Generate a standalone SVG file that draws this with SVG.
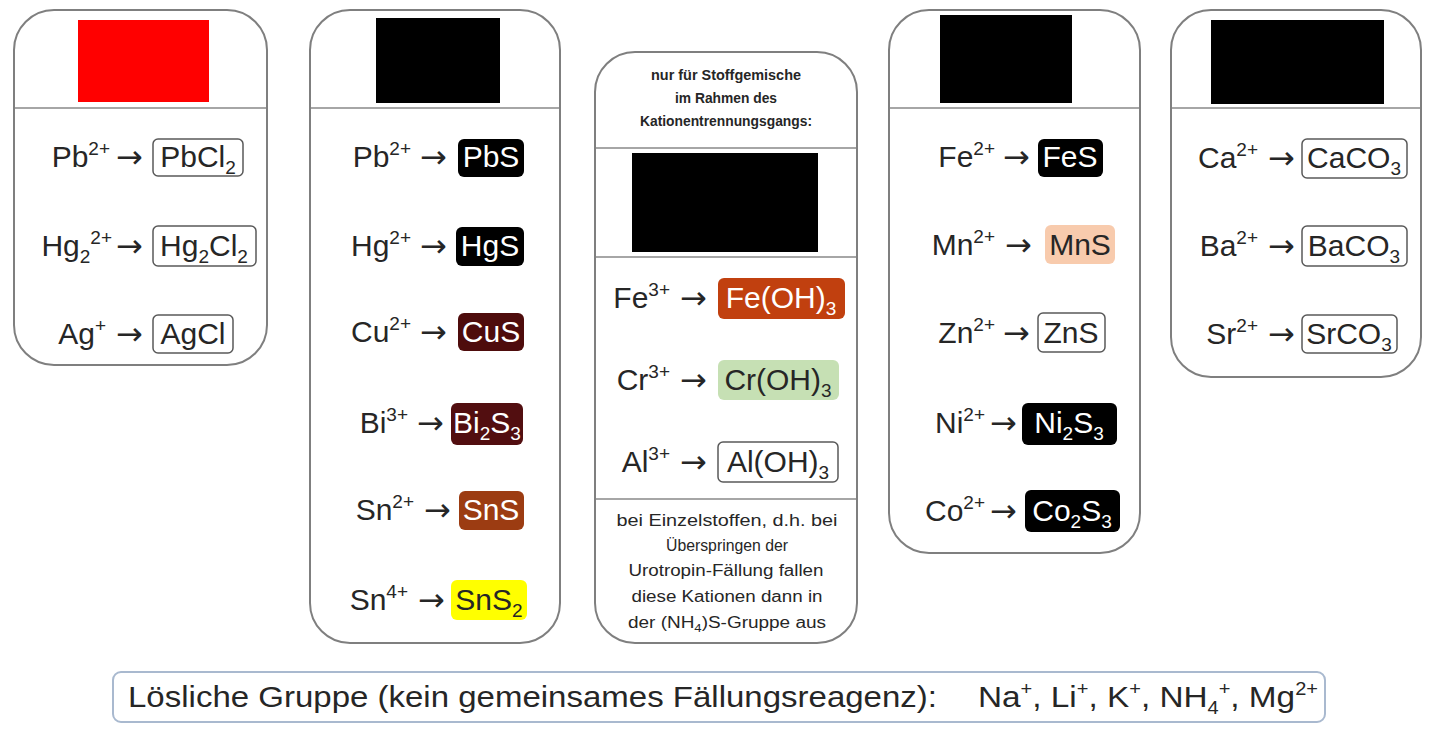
<svg xmlns="http://www.w3.org/2000/svg" width="1440" height="737" viewBox="0 0 1440 737">
<style>
.panel{fill:#fff;stroke:#7f7f7f;stroke-width:2}
.dv{stroke:#a6a6a6;stroke-width:2}
.t{font-family:"Liberation Sans",Arial,sans-serif;font-size:30px;fill:#262626}
.arr{font-family:"DejaVu Sans",sans-serif;font-size:32px;fill:#262626}
.w{fill:#fff}
.ob{fill:#fff;stroke:#595959;stroke-width:1.5}
.s{font-size:19px}
.hd{font-family:"Liberation Sans",Arial,sans-serif;font-size:15px;font-weight:bold;fill:#262626}
.ft{font-family:"Liberation Sans",Arial,sans-serif;font-size:16px;fill:#262626}
</style>
<rect width="1440" height="737" fill="#fff"/>

<g id="group-hcl">
<rect class="panel" x="14" y="10" width="253" height="355" rx="40"/>
<line class="dv" x1="15" y1="108" x2="266" y2="108"/>
<rect x="78" y="20" width="131" height="82" fill="#ff0000"/>
<text class="t" x="110" y="167" text-anchor="end">Pb<tspan class="s" dy="-12">2+</tspan></text>
<text class="arr" x="116" y="168">→</text>
<rect class="ob" x="153" y="139" width="90" height="37" rx="5"/>
<text class="t" x="198" y="167" text-anchor="middle">PbCl<tspan class="s" dy="7">2</tspan></text>
<text class="t" x="112" y="256" text-anchor="end">Hg<tspan class="s" dy="7">2</tspan><tspan class="s" dy="-19">2+</tspan></text>
<text class="arr" x="116" y="257">→</text>
<rect class="ob" x="153" y="226" width="103" height="40" rx="5"/>
<text class="t" x="204" y="256" text-anchor="middle">Hg<tspan class="s" dy="7">2</tspan><tspan dy="-7">Cl</tspan><tspan class="s" dy="7">2</tspan></text>
<text class="t" x="106" y="344" text-anchor="end">Ag<tspan class="s" dy="-12">+</tspan></text>
<text class="arr" x="116" y="345">→</text>
<rect class="ob" x="153" y="315" width="80" height="38" rx="5"/>
<text class="t" x="193" y="344" text-anchor="middle">AgCl</text>
</g>

<g id="group-h2s">
<rect class="panel" x="310" y="10" width="250" height="633" rx="40"/>
<line class="dv" x1="311" y1="108" x2="559" y2="108"/>
<rect x="376" y="18" width="124" height="85" fill="#000"/>
<text class="t" x="411" y="167" text-anchor="end">Pb<tspan class="s" dy="-12">2+</tspan></text>
<text class="arr" x="420" y="168">→</text>
<rect x="458" y="139" width="66" height="38" rx="6" fill="#000"/>
<text class="t w" x="491" y="167" text-anchor="middle">PbS</text>
<text class="t" x="411" y="256" text-anchor="end">Hg<tspan class="s" dy="-12">2+</tspan></text>
<text class="arr" x="420" y="257">→</text>
<rect x="456" y="227" width="68" height="39" rx="6" fill="#000"/>
<text class="t w" x="490" y="256" text-anchor="middle">HgS</text>
<text class="t" x="411" y="342" text-anchor="end">Cu<tspan class="s" dy="-12">2+</tspan></text>
<text class="arr" x="420" y="343">→</text>
<rect x="458" y="313" width="66" height="38" rx="6" fill="#4e0c0c"/>
<text class="t w" x="491" y="342" text-anchor="middle">CuS</text>
<text class="t" x="408" y="433" text-anchor="end">Bi<tspan class="s" dy="-12">3+</tspan></text>
<text class="arr" x="417" y="434">→</text>
<rect x="451" y="403" width="72" height="42" rx="6" fill="#520e10"/>
<text class="t w" x="487" y="433" text-anchor="middle">Bi<tspan class="s" dy="7">2</tspan><tspan dy="-7">S</tspan><tspan class="s" dy="7">3</tspan></text>
<text class="t" x="414" y="520" text-anchor="end">Sn<tspan class="s" dy="-12">2+</tspan></text>
<text class="arr" x="424" y="521">→</text>
<rect x="459" y="491" width="65" height="39" rx="6" fill="#9c3c12"/>
<text class="t w" x="491" y="520" text-anchor="middle">SnS</text>
<text class="t" x="408" y="610" text-anchor="end">Sn<tspan class="s" dy="-12">4+</tspan></text>
<text class="arr" x="418" y="611">→</text>
<rect x="451" y="580" width="76" height="40" rx="6" fill="#ffff00"/>
<text class="t" x="489" y="610" text-anchor="middle">SnS<tspan class="s" dy="7">2</tspan></text>
</g>

<g id="group-urotropin">
<rect class="panel" x="595" y="52" width="262" height="591" rx="40"/>
<text class="hd" x="726" y="80" text-anchor="middle" textLength="150" lengthAdjust="spacingAndGlyphs">nur für Stoffgemische</text>
<text class="hd" x="726" y="103" text-anchor="middle" textLength="102" lengthAdjust="spacingAndGlyphs">im Rahmen des</text>
<text class="hd" x="726" y="126" text-anchor="middle" textLength="172" lengthAdjust="spacingAndGlyphs">Kationentrennungsgangs:</text>
<line class="dv" x1="596" y1="148" x2="856" y2="148"/>
<rect x="632" y="153" width="186" height="99" fill="#000"/>
<line class="dv" x1="596" y1="257" x2="856" y2="257"/>
<text class="t" x="670" y="308" text-anchor="end">Fe<tspan class="s" dy="-12">3+</tspan></text>
<text class="arr" x="680" y="309">→</text>
<rect x="718" y="278" width="127" height="41" rx="6" fill="#c1400f"/>
<text class="t w" x="781" y="308" text-anchor="middle">Fe(OH)<tspan class="s" dy="7">3</tspan></text>
<text class="t" x="670" y="390" text-anchor="end">Cr<tspan class="s" dy="-12">3+</tspan></text>
<text class="arr" x="680" y="391">→</text>
<rect x="718" y="360" width="121" height="40" rx="6" fill="#c6e0b4"/>
<text class="t" x="778" y="390" text-anchor="middle">Cr(OH)<tspan class="s" dy="7">3</tspan></text>
<text class="t" x="670" y="472" text-anchor="end">Al<tspan class="s" dy="-12">3+</tspan></text>
<text class="arr" x="680" y="473">→</text>
<rect class="ob" x="718" y="442" width="120" height="40" rx="5"/>
<text class="t" x="778" y="472" text-anchor="middle">Al(OH)<tspan class="s" dy="7">3</tspan></text>
<line class="dv" x1="596" y1="499" x2="856" y2="499"/>
<text class="ft" x="727" y="526" text-anchor="middle" textLength="221" lengthAdjust="spacingAndGlyphs">bei Einzelstoffen, d.h. bei</text>
<text class="ft" x="727" y="551" text-anchor="middle" textLength="122" lengthAdjust="spacingAndGlyphs">Überspringen der</text>
<text class="ft" x="726" y="576" text-anchor="middle" textLength="195" lengthAdjust="spacingAndGlyphs">Urotropin-Fällung fallen</text>
<text class="ft" x="727" y="602" text-anchor="middle" textLength="191" lengthAdjust="spacingAndGlyphs">diese Kationen dann in</text>
<text class="ft" x="727" y="628" text-anchor="middle" textLength="198" lengthAdjust="spacingAndGlyphs">der (NH<tspan font-size="11" dy="4">4</tspan><tspan dy="-4">)S-Gruppe aus</tspan></text>
</g>

<g id="group-nh4s">
<rect class="panel" x="889" y="10" width="251" height="543" rx="40"/>
<line class="dv" x1="890" y1="108" x2="1139" y2="108"/>
<rect x="940" y="15" width="132" height="88" fill="#000"/>
<text class="t" x="995" y="167" text-anchor="end">Fe<tspan class="s" dy="-12">2+</tspan></text>
<text class="arr" x="1003" y="168">→</text>
<rect x="1038" y="139" width="65" height="38" rx="6" fill="#000"/>
<text class="t w" x="1070" y="167" text-anchor="middle">FeS</text>
<text class="t" x="995" y="255" text-anchor="end">Mn<tspan class="s" dy="-12">2+</tspan></text>
<text class="arr" x="1005" y="256">→</text>
<rect x="1045" y="225" width="70" height="39" rx="6" fill="#f8cbad"/>
<text class="t" x="1080" y="255" text-anchor="middle">MnS</text>
<text class="t" x="995" y="343" text-anchor="end">Zn<tspan class="s" dy="-12">2+</tspan></text>
<text class="arr" x="1003" y="344">→</text>
<rect class="ob" x="1038" y="313" width="67" height="39" rx="5"/>
<text class="t" x="1071" y="343" text-anchor="middle">ZnS</text>
<text class="t" x="985" y="433" text-anchor="end">Ni<tspan class="s" dy="-12">2+</tspan></text>
<text class="arr" x="990" y="434">→</text>
<rect x="1022" y="403" width="95" height="42" rx="6" fill="#000"/>
<text class="t w" x="1069" y="433" text-anchor="middle">Ni<tspan class="s" dy="7">2</tspan><tspan dy="-7">S</tspan><tspan class="s" dy="7">3</tspan></text>
<text class="t" x="985" y="521" text-anchor="end">Co<tspan class="s" dy="-12">2+</tspan></text>
<text class="arr" x="990" y="522">→</text>
<rect x="1025" y="490" width="95" height="42" rx="6" fill="#000"/>
<text class="t w" x="1072" y="521" text-anchor="middle">Co<tspan class="s" dy="7">2</tspan><tspan dy="-7">S</tspan><tspan class="s" dy="7">3</tspan></text>
</g>

<g id="group-carbonate">
<rect class="panel" x="1171" y="10" width="250" height="367" rx="40"/>
<line class="dv" x1="1172" y1="108" x2="1420" y2="108"/>
<rect x="1211" y="20" width="173" height="84" fill="#000"/>
<text class="t" x="1258" y="168" text-anchor="end">Ca<tspan class="s" dy="-12">2+</tspan></text>
<text class="arr" x="1268" y="169">→</text>
<rect class="ob" x="1302" y="139" width="105" height="39" rx="5"/>
<text class="t" x="1354" y="168" text-anchor="middle">CaCO<tspan class="s" dy="7">3</tspan></text>
<text class="t" x="1258" y="256" text-anchor="end">Ba<tspan class="s" dy="-12">2+</tspan></text>
<text class="arr" x="1268" y="257">→</text>
<rect class="ob" x="1302" y="226" width="105" height="40" rx="5"/>
<text class="t" x="1354" y="256" text-anchor="middle">BaCO<tspan class="s" dy="7">3</tspan></text>
<text class="t" x="1258" y="344" text-anchor="end">Sr<tspan class="s" dy="-12">2+</tspan></text>
<text class="arr" x="1268" y="345">→</text>
<rect class="ob" x="1302" y="315" width="95" height="38" rx="5"/>
<text class="t" x="1349" y="344" text-anchor="middle">SrCO<tspan class="s" dy="7">3</tspan></text>
</g>

<g id="soluble-group">
<rect x="113" y="672" width="1212" height="50" rx="8" fill="#fff" stroke="#a9b9cf" stroke-width="2"/>
<text class="t" x="128" y="707" font-size="28" textLength="809" lengthAdjust="spacingAndGlyphs">Lösliche Gruppe (kein gemeinsames Fällungsreagenz):</text>
<text class="t" x="978" y="707" font-size="30" textLength="340" lengthAdjust="spacingAndGlyphs">Na<tspan font-size="18" dy="-12">+</tspan><tspan dy="12">, Li</tspan><tspan font-size="18" dy="-12">+</tspan><tspan dy="12">, K</tspan><tspan font-size="18" dy="-12">+</tspan><tspan dy="12">, NH</tspan><tspan font-size="18" dy="7">4</tspan><tspan font-size="18" dy="-19">+</tspan><tspan dy="12">, Mg</tspan><tspan font-size="18" dy="-12">2+</tspan></text>
</g>

<g id="connectors"/>
</svg>
